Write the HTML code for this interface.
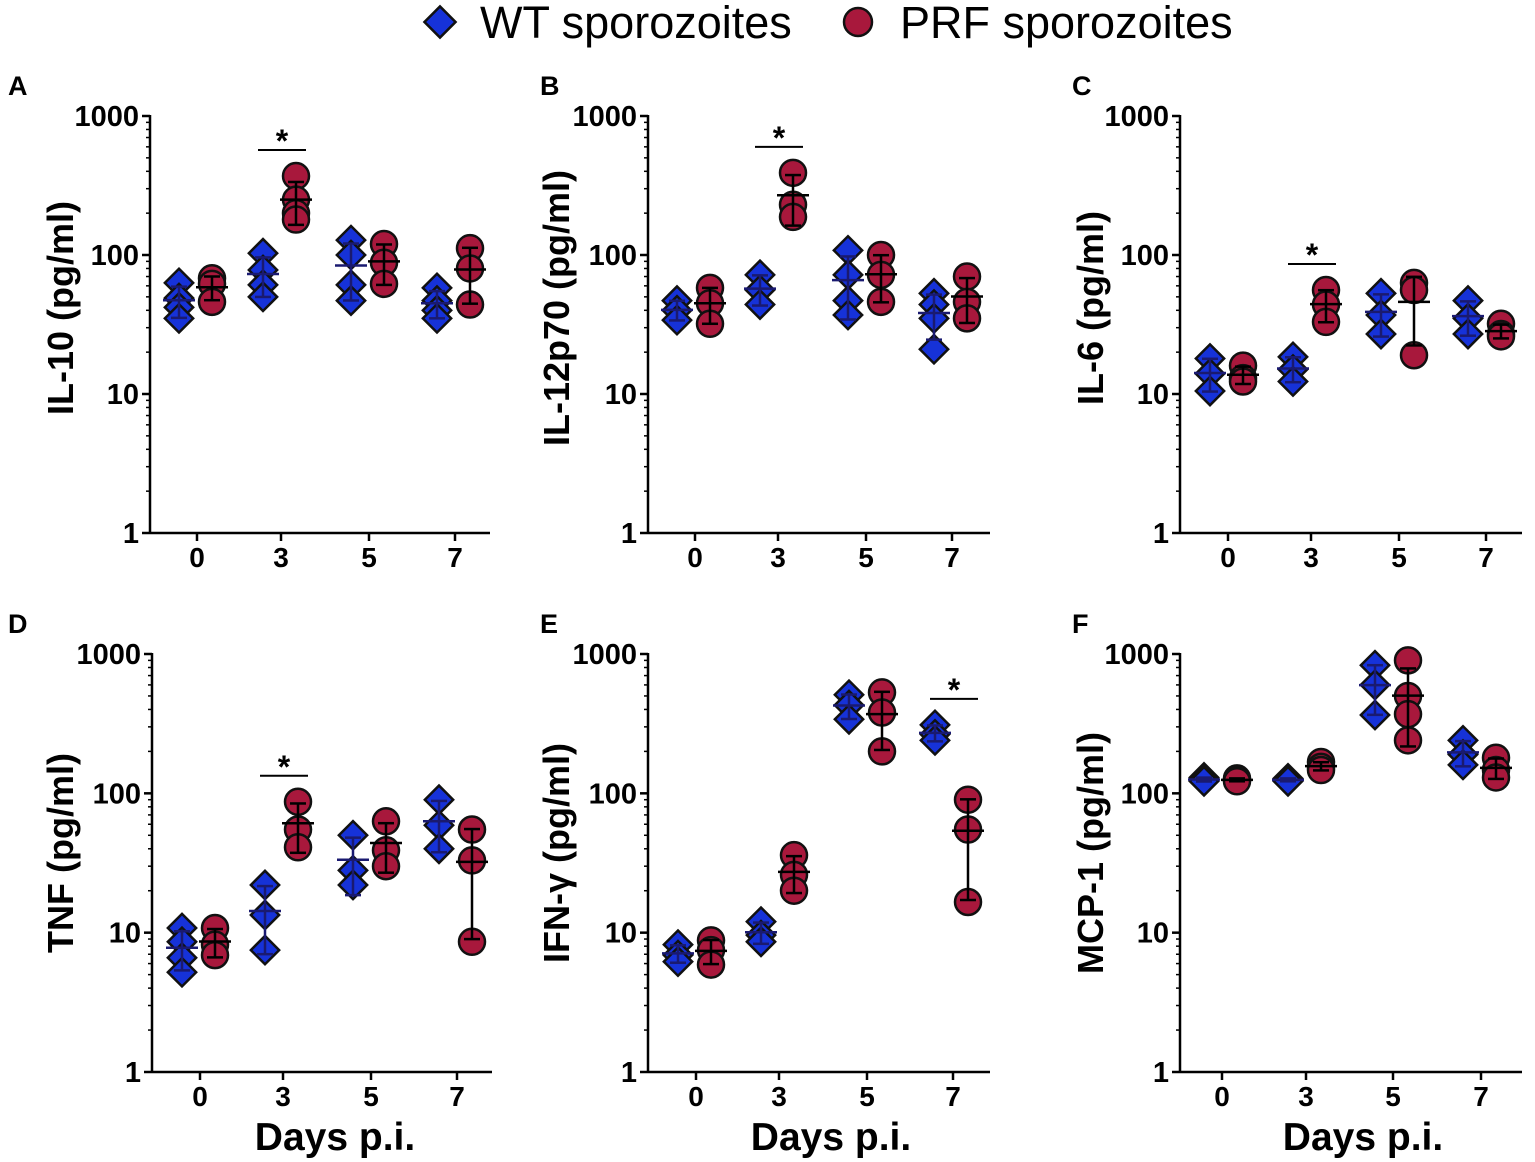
<!DOCTYPE html>
<html><head><meta charset="utf-8">
<style>
body{margin:0;background:#fff;}
svg{display:block;font-family:"Liberation Sans",Arial,sans-serif;font-weight:bold;}
</style></head>
<body>
<svg id="chart" width="1535" height="1162" viewBox="0 0 1535 1162">
  <g>
    <rect x="429" y="11" width="22" height="22" transform="rotate(45 440 22)" fill="#1632d8" stroke="#111" stroke-width="2.5"/>
    <text x="480" y="38" font-size="45" font-weight="normal">WT sporozoites</text>
    <circle cx="858" cy="22" r="14" fill="#a8183c" stroke="#111" stroke-width="2.5"/>
    <text x="900" y="38" font-size="45" font-weight="normal">PRF sporozoites</text>
  </g>
</svg>
<script>
const days = ["0","3","5","7"];
const yTicks = [1,10,100,1000];
const yTickLabels = ["1","10","100","1000"];
const panelLetters = ["A","B","C","D","E","F"];
const panelTitles = ["IL-10 (pg/ml)","IL-12p70 (pg/ml)","IL-6 (pg/ml)","TNF (pg/ml)","IFN-γ (pg/ml)","MCP-1 (pg/ml)"];
const wtA = [[63,49,42,35],[103,78,61,50],[128,100,61,47],[58,47,40,35]];
const prfA = [[68,62,46],[370,250,200,180],[120,88,62],[112,80,44]];
const wtB = [[47,40,34],[72,56,44],[108,72,47,37],[53,44,35,21]];
const prfB = [[58,45,32],[390,230,188],[100,72,46],[70,46,35]];
const wtC = [[18,14,10.5],[18.5,15,12.3],[53,37,27],[47,35,27]];
const prfC = [[16,13,12.3],[56,44,33],[63,56,19],[32,27,26]];
const wtD = [[10.8,8.6,6.6,5.2],[22,13.4,7.5],[50,28,22],[90,59,40]];
const prfD = [[10.8,8.2,6.9],[87,55,41],[63,39,30],[55,33,8.6]];
const wtE = [[8.2,6.9,6.2],[12,9.6,8.6],[510,430,340],[310,265,240]];
const prfE = [[8.8,7.5,5.9],[36,26,20],[530,380,200],[90,55,16.6]];
const wtF = [[130,125,122],[128,125,122],[830,600,365],[240,190,160]];
const prfF = [[128,125,122],[168,155,147],[900,500,370,240],[180,147,130]];
const wtAll = [wtA,wtB,wtC,wtD,wtE,wtF];
const prfAll = [prfA,prfB,prfC,prfD,prfE,prfF];
const sigDay = [1,1,1,1,3,null];

const layout = [
 {ax:150,top:116,bot:533,right:490,tx:[197,281,369,455],lx:8,ly:95,ty:308,tcx:60},
 {ax:648,top:116,bot:533,right:990,tx:[695,778,866,952],lx:540,ly:95,ty:308,tcx:556},
 {ax:1180,top:116,bot:533,right:1522,tx:[1228,1311,1399,1486],lx:1072,ly:95,ty:308,tcx:1090},
 {ax:152,top:654,bot:1072,right:492,tx:[200,283,371,457],lx:8,ly:633,ty:853,tcx:60},
 {ax:648,top:654,bot:1072,right:990,tx:[696,779,867,953],lx:540,ly:633,ty:853,tcx:556},
 {ax:1180,top:654,bot:1072,right:1522,tx:[1222,1306,1393,1481],lx:1072,ly:633,ty:853,tcx:1090}
];
const NS="http://www.w3.org/2000/svg";
const svg=document.getElementById('chart');
function mk(tag,attrs,parent){const e=document.createElementNS(NS,tag);for(const k in attrs)e.setAttribute(k,attrs[k]);(parent||svg).appendChild(e);return e;}
function stats(a){const m=a.reduce((s,v)=>s+v,0)/a.length;const sd=Math.sqrt(a.reduce((s,v)=>s+(v-m)*(v-m),0)/(a.length-1));return [m,sd];}

layout.forEach((L,p)=>{
  const g=mk('g',{});
  
  
  const y=v=>L.bot-(Math.log10(v))*(L.bot-L.top)/3;
  const lt=mk('text',{x:L.lx,y:L.ly,'font-size':27},g);lt.textContent=panelLetters[p];
  
  
  const ya=mk('line',{x1:L.ax,y1:L.top-1,x2:L.ax,y2:L.bot,stroke:'#000','stroke-width':2.5},g);
  
  
  const xa=mk('line',{x1:L.ax,y1:L.bot,x2:L.right,y2:L.bot,stroke:'#000','stroke-width':2.5},g);
  
  
  yTicks.forEach((t,i)=>{
    mk('line',{x1:L.ax-8,x2:L.ax,y1:y(t),y2:y(t),stroke:'#000','stroke-width':2.5},g);
    const tt=mk('text',{x:L.ax-11,y:y(t)+10,'font-size':29,'text-anchor':'end'},g);tt.textContent=yTickLabels[i];
    
    
    if(i<3)for(let k=2;k<10;k++)mk('line',{x1:L.ax-4,x2:L.ax,y1:y(t*k),y2:y(t*k),stroke:'#000','stroke-width':1.5},g);
  });
  days.forEach((d,i)=>{
    mk('line',{x1:L.tx[i],x2:L.tx[i],y1:L.bot,y2:L.bot+8,stroke:'#000','stroke-width':2.5},g);
    const t=mk('text',{x:L.tx[i],y:L.bot+34,'font-size':28,'text-anchor':'middle'},g);t.textContent=d;
    
    
  });
  const yt=mk('text',{x:L.tcx,y:L.ty,'font-size':36,'text-anchor':'middle',transform:`rotate(-90 ${L.tcx} ${L.ty})`,dy:13},g);yt.textContent=panelTitles[p];
  
  
  if(p>=3){const xt=mk('text',{x:L.ax+183,y:1150,'font-size':39,'text-anchor':'middle'},g);xt.textContent='Days p.i.';
    
    }
  days.forEach((d,i)=>{
    [['wt',wtAll[p][i],-18],['prf',prfAll[p][i],15]].forEach(([kind,vals,off])=>{
      const cx=L.tx[i]+off;
      vals.forEach((v,j)=>{
        const px=cx,py=y(v);
        let m;
        if(kind==='wt'){m=mk('rect',{x:px-10,y:py-10,width:20,height:20,transform:`rotate(45 ${px} ${py})`,fill:'#1632d8',stroke:'#111','stroke-width':2.5},g);}
        else{m=mk('circle',{cx:px,cy:py,r:13,fill:'#a8183c',stroke:'#111','stroke-width':2.5},g);}
        
        
      });
      const [mn,sd]=stats(vals);const col=kind==='wt'?'#1a1a70':'#000';
      const lo=Math.max(mn-sd,1.05);
      const eb=mk('g',{stroke:col,'stroke-width':2.5},g);
      
      
      mk('line',{x1:cx-16,x2:cx+16,y1:y(mn),y2:y(mn)},eb);
      mk('line',{x1:cx,x2:cx,y1:y(mn+sd),y2:y(lo)},eb);
      mk('line',{x1:cx-8,x2:cx+8,y1:y(mn+sd),y2:y(mn+sd)},eb);
      mk('line',{x1:cx-8,x2:cx+8,y1:y(lo),y2:y(lo)},eb);
    });
  });
  if(sigDay[p]!==null){
    const i=sigDay[p];
    const allv=wtAll[p][i].concat(prfAll[p][i]);
    const sy=y(Math.max(...allv))-26;
    const sg=mk('g',{},g);
    
    
    mk('line',{x1:L.tx[i]-23,x2:L.tx[i]+25,y1:sy,y2:sy,stroke:'#000','stroke-width':2},sg);
    const st=mk('text',{x:L.tx[i]+1,y:sy+2,'font-size':32,'text-anchor':'middle'},sg);st.textContent='*';
  }
});
</script>
</body></html>
